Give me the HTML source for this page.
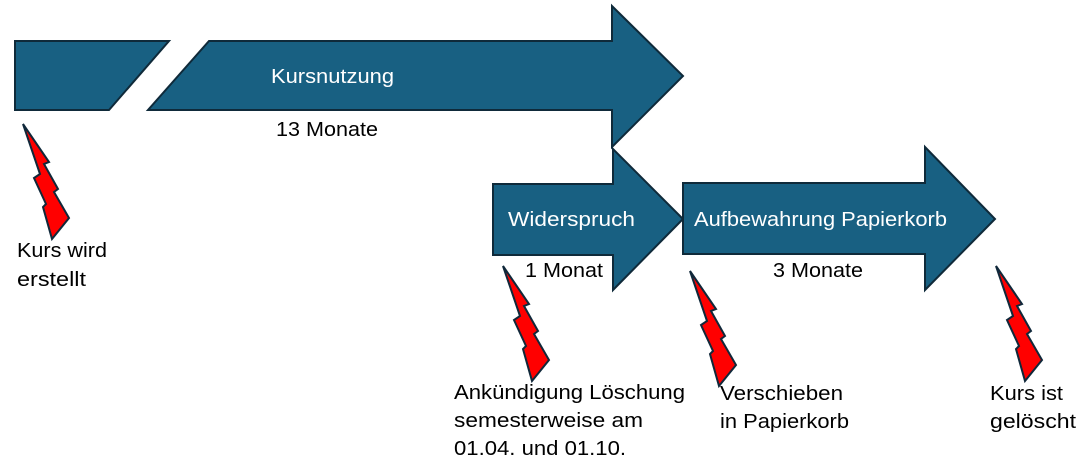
<!DOCTYPE html>
<html><head><meta charset="utf-8"><style>
html,body{margin:0;padding:0;background:#fff;}
svg{display:block;}
text{font-family:"Liberation Sans",sans-serif;font-size:20px;}
</style></head><body>
<svg width="1086" height="464" viewBox="0 0 1086 464" xmlns="http://www.w3.org/2000/svg">
<defs>
<polygon id="bolt" points="0,0 26,38 21,40 35,65 31,68 46,94 29,115 20,83 23,80 11,54 17,50" fill="#ff0000" stroke="#10283a" stroke-width="2" stroke-linejoin="miter"/>
</defs>
<g fill="#186082" stroke="#0f2a3a" stroke-width="2">
<polygon points="15,41 169,41 109,110 15,110"/>
<polygon points="209,41 612,41 612,6 683,76 612,147 612,110 148,110"/>
<polygon points="493,184 613,184 613,149 683,219 613,290 613,255 493,255"/>
<polygon points="683,183 925,183 925,147 995,219 925,290 925,254 683,254"/>
</g>
<g fill="#fff">
<text x="271" y="83" textLength="123" lengthAdjust="spacingAndGlyphs">Kursnutzung</text>
<text x="508" y="226" textLength="127" lengthAdjust="spacingAndGlyphs">Widerspruch</text>
<text x="694" y="226" textLength="253" lengthAdjust="spacingAndGlyphs">Aufbewahrung Papierkorb</text>
</g>
<g fill="#000">
<text x="276" y="136" textLength="102" lengthAdjust="spacingAndGlyphs">13 Monate</text>
<text x="525" y="277" textLength="78" lengthAdjust="spacingAndGlyphs">1 Monat</text>
<text x="773" y="277" textLength="90" lengthAdjust="spacingAndGlyphs">3 Monate</text>
<text x="17" y="257" textLength="90" lengthAdjust="spacingAndGlyphs">Kurs wird</text>
<text x="17" y="286" textLength="69" lengthAdjust="spacingAndGlyphs">erstellt</text>
<text x="454" y="399" textLength="231" lengthAdjust="spacingAndGlyphs">Ankündigung Löschung</text>
<text x="454" y="427" textLength="189" lengthAdjust="spacingAndGlyphs">semesterweise am</text>
<text x="454" y="455" textLength="172" lengthAdjust="spacingAndGlyphs">01.04. und 01.10.</text>
<text x="720" y="400" textLength="123" lengthAdjust="spacingAndGlyphs">Verschieben</text>
<text x="720" y="428" textLength="129" lengthAdjust="spacingAndGlyphs">in Papierkorb</text>
<text x="990" y="400" textLength="73" lengthAdjust="spacingAndGlyphs">Kurs ist</text>
<text x="990" y="428" textLength="86" lengthAdjust="spacingAndGlyphs">gelöscht</text>
</g>
<use href="#bolt" x="23" y="124"/>
<use href="#bolt" x="503" y="266"/>
<use href="#bolt" x="690" y="271"/>
<use href="#bolt" x="996" y="266"/>
</svg>
</body></html>
